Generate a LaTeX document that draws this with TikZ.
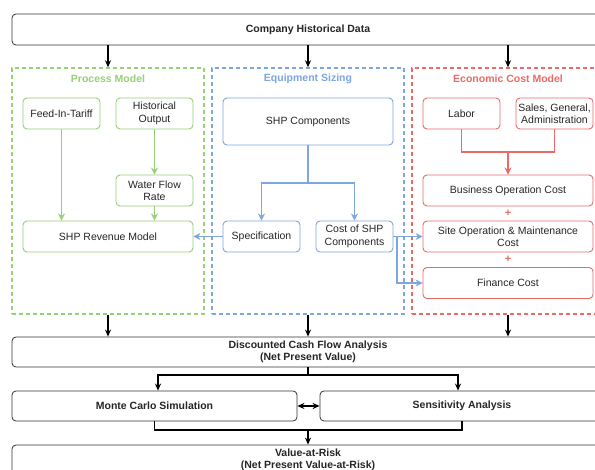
\documentclass[tikz,border=0pt]{standalone}
\usepackage{fontspec}
\setmainfont{Liberation Sans}
\usetikzlibrary{arrows.meta}
\definecolor{gr}{HTML}{97D077}
\definecolor{bl}{HTML}{7EA6E0}
\definecolor{rd}{HTML}{EA6B66}
\definecolor{tx}{HTML}{262626}
\begin{document}
\begin{tikzpicture}[x=1pt,y=-1pt,
  every node/.style={font=\fontsize{10.5}{12.5}\selectfont, text=tx},
  mainbox/.style={draw=black!80, line width=0.8pt, rounded corners=4pt, inner sep=0pt, align=center, font=\fontsize{10.5}{12.5}\selectfont\bfseries},
  container/.style={draw, dashed, dash pattern=on 4pt off 3pt, line width=1.4pt, inner sep=0pt},
  gbox/.style={draw=gr, line width=0.9pt, rounded corners=4pt, inner sep=0pt, align=center},
  bbox/.style={draw=bl, line width=0.9pt, rounded corners=4pt, inner sep=0pt, align=center},
  rbox/.style={draw=rd, line width=0.9pt, rounded corners=4pt, inner sep=0pt, align=center},
  title/.style={font=\fontsize{10.5}{12.5}\selectfont\bfseries},
  karrow/.style={draw=black, line width=1.2pt, -{Stealth[length=7pt,width=6pt]}},
  kline/.style={draw=black, line width=1.2pt},
  garrow/.style={draw=gr, line width=1.5pt, -{Stealth[length=7pt,width=7pt]}},
  barrow/.style={draw=bl, line width=1.5pt, -{Stealth[length=7pt,width=7pt]}},
  bline/.style={draw=bl, line width=1.5pt},
  rarrow/.style={draw=rd, line width=1.5pt, -{Stealth[length=7pt,width=7pt]}},
  rline/.style={draw=rd, line width=1.5pt}
]
\clip (0,0) rectangle (595,470);
\useasboundingbox (0,0) rectangle (595,470);
\fill[white] (0,0) rectangle (595,470);

% top box
\node[mainbox, minimum width=592pt, minimum height=31pt] (top) at (308,29.5) {Company Historical Data};

% containers
\node[container, draw=gr, minimum width=192pt, minimum height=246pt] (gc) at (108,191) {};
\node[container, draw=bl, minimum width=192pt, minimum height=246pt] (bc) at (308,191) {};
\node[container, draw=rd, minimum width=192pt, minimum height=246pt] (rc) at (508,191) {};
\node[title, text=gr] (gt) at (108,79) {Process Model};
\node[title, text=bl] (bt) at (308,79) {Equipment Sizing};
\node[title, text=rd] (rt) at (508,79) {Economic Cost Model};

% green nodes
\node[gbox, minimum width=77pt, minimum height=31pt] (feed) at (61.5,113.5) {Feed-In-Tariff};
\node[gbox, minimum width=77pt, minimum height=31pt] (hist) at (154.5,113.5) {Historical\\Output};
\node[gbox, minimum width=77pt, minimum height=31pt] (water) at (154.5,190.5) {Water Flow\\Rate};
\node[gbox, minimum width=170pt, minimum height=31pt] (rev) at (108,236.5) {SHP Revenue Model};

% blue nodes
\node[bbox, minimum width=170pt, minimum height=47pt] (comp) at (308,121.5) {SHP Components};
\node[bbox, minimum width=77pt, minimum height=31pt] (spec) at (261.5,236.5) {Specification};
\node[bbox, minimum width=77pt, minimum height=31pt] (cost) at (354.5,236.5) {Cost of SHP\\Components};

% red nodes
\node[rbox, minimum width=77pt, minimum height=31pt] (labor) at (461.5,113.5) {Labor};
\node[rbox, minimum width=77pt, minimum height=31pt] (sales) at (554.5,113.5) {Sales, General,\\Administration};
\node[rbox, minimum width=170pt, minimum height=31pt] (boc) at (508,190.5) {Business Operation Cost};
\node[text=rd, font=\fontsize{11}{12}\selectfont\bfseries] (p1) at (508,213) {+};
\node[rbox, minimum width=170pt, minimum height=31pt] (som) at (508,236.5) {Site Operation \& Maintenance\\Cost};
\node[text=rd, font=\fontsize{11}{12}\selectfont\bfseries] (p2) at (508,259.5) {+};
\node[rbox, minimum width=170pt, minimum height=31pt] (fin) at (508,283) {Finance Cost};

% bottom boxes
\node[mainbox, minimum width=592pt, minimum height=30pt] (dcf) at (308,352) {Discounted Cash Flow Analysis\\(Net Present Value)};
\node[mainbox, minimum width=285pt, minimum height=30pt] (mc) at (154.5,406) {Monte Carlo Simulation};
\node[mainbox, minimum width=284pt, minimum height=30pt] (sa) at (462,406) {Sensitivity Analysis};
\node[mainbox, minimum width=592pt, minimum height=30pt] (var) at (308,460) {Value-at-Risk\\(Net Present Value-at-Risk)};

% coordinates
\coordinate (bj) at (308,183);
\coordinate (cj) at (397,236.5);
\coordinate (rj) at (508,152);
\coordinate (dj) at (308,375);
\coordinate (vj) at (308,430);

% top arrows
\draw[karrow] (top.south -| gc.north) -- (gc.north);
\draw[karrow] (top.south -| bc.north) -- (bc.north);
\draw[karrow] (top.south -| rc.north) -- (rc.north);

% green
\draw[garrow] (feed.south) -- (feed.south |- rev.north);
\draw[garrow] (hist.south) -- (water.north);
\draw[garrow] (water.south) -- (water.south |- rev.north);

% blue
\draw[bline] (comp.south) -- (bj);
\draw[barrow] (bj) -| (spec.north);
\draw[barrow] (bj) -| (cost.north);
\draw[barrow] (spec.west) -- (rev.east);
\draw[barrow] (cost.east) -- (som.west);
\draw[barrow] (cj) |- (fin.west);

% red
\draw[rline] (labor.south) |- (rj) -| (sales.south);
\draw[rarrow] (rj) -- (boc.north);

% to DCF
\draw[karrow] (gc.south) -- (gc.south |- dcf.north);
\draw[karrow] (bc.south) -- (bc.south |- dcf.north);
\draw[karrow] (rc.south) -- (rc.south |- dcf.north);

% DCF to MC / SA
\draw[kline] (dcf.south) -- (dj);
\draw[karrow] (dj) -| ([xshift=3.5pt]mc.north);
\draw[karrow] (dj) -| ([xshift=-4pt]sa.north);
\draw[draw=black, line width=1.2pt, {Stealth[length=7pt,width=6pt]}-{Stealth[length=7pt,width=6pt]}] (mc.east) -- (sa.west);

% MC / SA to VaR
\draw[kline] (mc.south) |- (vj) -| (sa.south);
\draw[karrow] (vj) -- (var.north);
\end{tikzpicture}
\end{document}
